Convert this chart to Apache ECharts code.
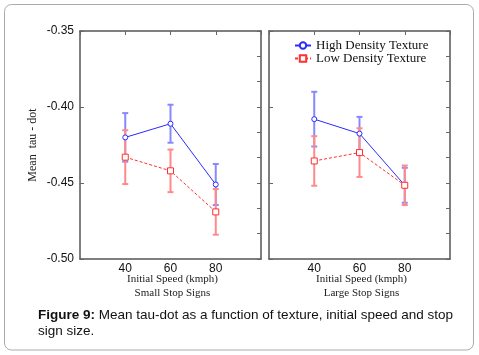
<!DOCTYPE html>
<html>
<head>
<meta charset="utf-8">
<script src="https://cdn.jsdelivr.net/npm/echarts@6/dist/echarts.min.js"></script>
<style>
  html, body { margin: 0; padding: 0; background: #fff; }
  #chart { width: 479px; height: 355px; }
</style>
</head>
<body>
<div id="chart"></div>
<script>
// initial speeds (kmph)
const speeds = [40, 60, 80];
const seriesNames = ["High Density Texture", "Low Density Texture"];

// small stop signs
const smallHigh = [-0.420, -0.411, -0.451];
const smallHighErr = [0.016, 0.0125, 0.0135];
const smallLow = [-0.433, -0.442, -0.469];
const smallLowErr = [0.0177, 0.014, 0.015];

// large stop signs
const largeHigh = [-0.408, -0.4175, -0.4515];
const largeHighErr = [0.018, 0.011, 0.0115];
const largeLow = [-0.4355, -0.430, -0.4515];
const largeLowErr = [0.0163, 0.016, 0.013];

const panelTitles = ["Small Stop Signs", "Large Stop Signs"];

const blue = "#2b2bff";
const red = "#ff3030";
const blueBar = "#8888ff";
const redBar = "#ff8a8a";
const frame = "#555";
const serif = "'Liberation Serif', 'DejaVu Serif', serif";
const sans = "'Liberation Sans', Arial, sans-serif";

const errRender = (color) => function (params, api) {
  const x = api.value(0);
  const lo = api.coord([x, api.value(1)]);
  const hi = api.coord([x, api.value(2)]);
  const w = 3;
  const st = { stroke: color, lineWidth: 2 };
  return {
    type: "group",
    children: [
      { type: "line", shape: { x1: lo[0], y1: lo[1], x2: hi[0], y2: hi[1] }, style: st },
      { type: "line", shape: { x1: lo[0] - w, y1: lo[1], x2: lo[0] + w, y2: lo[1] }, style: st },
      { type: "line", shape: { x1: hi[0] - w, y1: hi[1], x2: hi[0] + w, y2: hi[1] }, style: st },
    ],
  };
};

const grids = [
  { left: 80, width: 181, top: 31, height: 228 },
  { left: 269, width: 181, top: 31, height: 228 },
];

const xAxes = [];
const yAxes = [];
grids.forEach((g, i) => {
  // bottom
  xAxes.push({
    gridIndex: i, type: "value", min: 20, max: 100, interval: 20,
    axisLine: { lineStyle: { color: frame, width: 1.5 } },
    axisTick: { show: false },
    splitLine: { show: false },
    axisLabel: {
      color: "#111", fontSize: 12, fontFamily: sans, margin: 4,
      formatter: (v) => (v === 20 || v === 100 ? "" : v),
    },
  });
  // top
  xAxes.push({
    gridIndex: i, type: "value", position: "top", min: 20, max: 100, interval: 20,
    axisLine: { lineStyle: { color: frame, width: 1.5 } },
    axisTick: { inside: true, length: 4, lineStyle: { color: "#666" } },
    splitLine: { show: false },
    axisLabel: { show: false },
  });
  // left
  yAxes.push({
    gridIndex: i, type: "value", min: -0.5, max: -0.35, interval: 0.05,
    axisLine: { show: true, lineStyle: { color: frame, width: 1.5 } },
    axisTick: { show: true, inside: true, length: 4, lineStyle: { color: "#666" } },
    splitLine: { show: false },
    axisLabel: {
      show: i === 0, color: "#111", fontSize: 12, fontFamily: sans, margin: 6,
      formatter: (v) => v.toFixed(2),
    },
    name: i === 0 ? "Mean  tau - dot" : "",
    nameLocation: "middle", nameGap: 41, nameRotate: 90,
    nameTextStyle: { color: "#222", fontSize: 12, fontFamily: serif },
  });
  // right
  yAxes.push({
    gridIndex: i, type: "value", position: "right", min: -0.5, max: -0.35, interval: 0.05 / 3,
    axisLine: { show: true, lineStyle: { color: frame, width: 1.5 } },
    axisTick: { show: true, inside: true, length: 4, lineStyle: { color: "#666" } },
    splitLine: { show: false },
    axisLabel: { show: false },
  });
});

const panels = [
  [smallHigh, smallHighErr, smallLow, smallLowErr],
  [largeHigh, largeHighErr, largeLow, largeLowErr],
];

const series = [];
panels.forEach((p, i) => {
  const [hi, hiErr, lo, loErr] = p;
  series.push({
    type: "custom", xAxisIndex: i * 2, yAxisIndex: i * 2,
    renderItem: errRender(blueBar), encode: { x: 0, y: [1, 2] }, z: 1,
    data: speeds.map((s, k) => [s, hi[k] - hiErr[k], hi[k] + hiErr[k]]),
  });
  series.push({
    type: "custom", xAxisIndex: i * 2, yAxisIndex: i * 2,
    renderItem: errRender(redBar), encode: { x: 0, y: [1, 2] }, z: 1,
    data: speeds.map((s, k) => [s, lo[k] - loErr[k], lo[k] + loErr[k]]),
  });
  series.push({
    name: seriesNames[0], type: "line", xAxisIndex: i * 2, yAxisIndex: i * 2, z: 3,
    symbol: "circle", symbolSize: 5, showSymbol: true, color: blue,
    lineStyle: { color: blue, width: 1 },
    itemStyle: { color: "#fff", borderColor: blue, borderWidth: 1 },
    data: speeds.map((s, k) => [s, hi[k]]),
  });
  series.push({
    name: seriesNames[1], type: "line", xAxisIndex: i * 2, yAxisIndex: i * 2, z: 3,
    symbol: "rect", symbolSize: 6, showSymbol: true, color: red,
    lineStyle: { color: red, width: 1, type: [3, 2] },
    itemStyle: { color: "#fff", borderColor: red, borderWidth: 1 },
    data: speeds.map((s, k) => [s, lo[k]]),
  });
});

const graphics = [
  {
    type: "rect", shape: { x: 4.5, y: 4.5, width: 469, height: 345.5, r: 7 },
    style: { fill: "none", stroke: "#aaa", lineWidth: 1 }, silent: true,
  },
  {
    type: "text", left: 38, top: 307,
    style: {
      text: "{b|Figure 9:} Mean tau-dot as a function of texture, initial speed and stop\nsign size.",
      font: "13.5px " + sans, fill: "#111", lineHeight: 16,
      rich: { b: { fontWeight: "bold", fontSize: 13.5, fontFamily: sans, fill: "#111" } },
    },
  },
];
grids.forEach((g, i) => {
  graphics.push({
    type: "text", x: g.left + g.width / 2 + 2, y: 272,
    style: {
      text: "Initial Speed (kmph)\n" + panelTitles[i], align: "center",
      font: "11px " + serif, fill: "#222", lineHeight: 14,
    },
  });
});

const chart = echarts.init(document.getElementById("chart"));
chart.setOption({
  animation: false,
  backgroundColor: "#fff",
  grid: grids,
  xAxis: xAxes,
  yAxis: yAxes,
  legend: {
    data: seriesNames, orient: "vertical", left: 289, top: 34,
    itemWidth: 16, itemHeight: 8, itemGap: 0,
    textStyle: { fontFamily: serif, fontSize: 13, color: "#111", lineHeight: 12 },
  },
  series: series,
  graphic: graphics,
});
</script>
</body>
</html>
